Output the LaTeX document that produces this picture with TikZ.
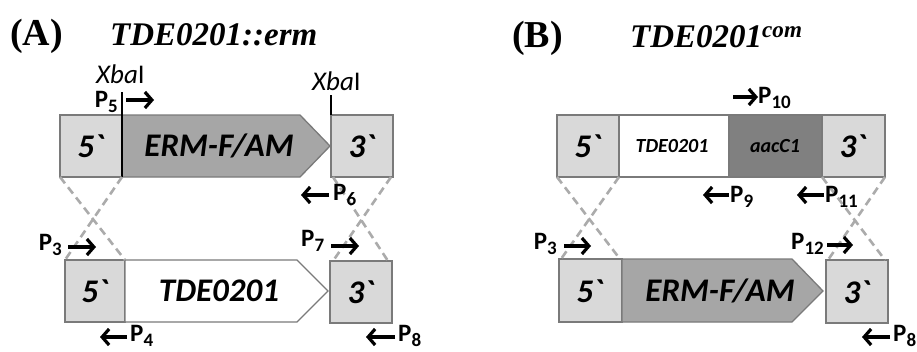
\documentclass[tikz,border=0pt]{standalone}
\usepackage{fontspec}
\setmainfont{Carlito}[Ligatures=TeXOff]
\newfontfamily\titlefont{Liberation Serif}
\usetikzlibrary{arrows.meta}
\definecolor{boxlight}{HTML}{D9D9D9}
\definecolor{ermgray}{HTML}{A6A6A6}
\definecolor{aacgray}{HTML}{808080}
\definecolor{edgegray}{HTML}{7A7A7A}
\definecolor{crossgray}{HTML}{ABABAB}
\newcommand{\primlab}[1]{P\raisebox{-5pt}{\fontsize{19}{19}\selectfont #1}}
\begin{document}
\begin{tikzpicture}[x=1pt,y=-1pt,
  seg/.style={draw=edgegray, line width=1.3pt, inner sep=0pt, outer sep=0pt, anchor=north west},
  arrowseg/.style={draw=edgegray, line width=1.3pt},
  lbl/.style={font=\fontsize{33}{36}\selectfont\bfseries\itshape, inner sep=0pt},
  smalllbl/.style={font=\fontsize{20}{24}\selectfont\bfseries\itshape, inner sep=0pt},
  cross/.style={draw=crossgray, line width=2.6pt, dash pattern=on 8pt off 5pt},
  primer/.style={line width=3.2pt, -{Straight Barb[length=7pt,width=16pt]}},
  plab/.style={font=\fontsize{25}{28}\selectfont\bfseries, inner sep=0pt},
  xba/.style={font=\fontsize{27}{30}\selectfont, inner sep=0pt, anchor=base west},
  ttl/.style={font=\fontsize{38}{40}\selectfont\titlefont\bfseries, inner sep=0pt, anchor=base west},
  ttlit/.style={font=\fontsize{33}{36}\selectfont\titlefont\bfseries\itshape, inner sep=0pt, anchor=base west}
]
\useasboundingbox (0,0) rectangle (917,351);

% ---------- titles ----------
\node[ttl] (tA) at (10,45) {(A)};
\node[ttlit] (tAname) at (110,45) {TDE0201::erm};
\node[ttl] (tB) at (512,47) {(B)};
\node[ttlit] (tBname) at (630,47) {TDE0201\textsuperscript{com}};

% ---------- panel A, top row ----------
\node[seg, fill=boxlight, minimum width=62pt, minimum height=62pt] (a5t) at (60,115) {};
\path[arrowseg, fill=ermgray] (122,115) coordinate (ermAtl) -- (300,115) -- (330,146) coordinate (ermAtip) -- (300,177) -- (122,177) coordinate (ermAbl) -- cycle;
\node[seg, fill=boxlight, minimum width=62pt, minimum height=62pt] (a3t) at (331,115) {};
\node[lbl] (a5tl) at (91,146) {5`};
\node[lbl] (ermAl) at (219,146) {ERM-F/AM};
\node[lbl] (a3tl) at (362,146) {3`};

% XbaI sites
\node[xba] (xba1) at (96,83) {\textit{Xba}I};
\coordinate (xba1top) at (122,92);
\draw[line width=1.1pt] (xba1top) -- (ermAbl);
\node[xba] (xba2) at (312,90) {\textit{Xba}I};
\coordinate (xba2top) at (331,95);
\draw[line width=1.1pt] (xba2top) -- (a3t.north west);

% ---------- panel A, bottom row ----------
\node[seg, fill=boxlight, minimum width=60pt, minimum height=62pt] (a5b) at (65,260) {};
\path[arrowseg, fill=white] (125,260) -- (297,260) -- (328,291) -- (297,322) -- (125,322) -- cycle;
\node[seg, fill=boxlight, minimum width=62pt, minimum height=62pt] (a3b) at (330,261) {};
\node[lbl] (a5bl) at (95,291) {5`};
\node[lbl] (tdeAl) at (219,291) {TDE0201};
\node[lbl] (a3bl) at (361,292) {3`};

% crossings A
\draw[cross] (a5t.south west) -- (a5b.north east);
\draw[cross] (a5t.south east) -- (a5b.north west);
\draw[cross] ([xshift=2pt]a3t.south west) -- ([xshift=-4pt]a3b.north east);
\draw[cross] ([xshift=-2pt]a3t.south east) -- ([xshift=3pt]a3b.north west);

% primers A
\node[plab, anchor=base east] (p5) at (118,107) {\primlab{5}};
\coordinate (p5s) at (126,100); \coordinate (p5e) at (154,100);
\draw[primer] (p5s) -- (p5e);

\node[plab, anchor=base west] (p6) at (333,200) {\primlab{6}};
\coordinate (p6s) at (329,195); \coordinate (p6e) at (301,195);
\draw[primer] (p6s) -- (p6e);

\node[plab, anchor=base east] (p3a) at (62,250) {\primlab{3}};
\coordinate (p3as) at (68,247); \coordinate (p3ae) at (96,247);
\draw[primer] (p3as) -- (p3ae);

\node[plab, anchor=base west] (p7) at (301,246) {\primlab{7}};
\coordinate (p7s) at (331,246); \coordinate (p7e) at (359,246);
\draw[primer] (p7s) -- (p7e);

\node[plab, anchor=base west] (p4) at (130,341) {\primlab{4}};
\coordinate (p4s) at (127,337); \coordinate (p4e) at (100,337);
\draw[primer] (p4s) -- (p4e);

\node[plab, anchor=base west] (p8a) at (398,341) {\primlab{8}};
\coordinate (p8as) at (395,337); \coordinate (p8ae) at (366,337);
\draw[primer] (p8as) -- (p8ae);

% ---------- panel B, top row ----------
\node[seg, fill=boxlight, minimum width=62pt, minimum height=62pt] (b5t) at (557,115) {};
\node[seg, fill=white, minimum width=110pt, minimum height=62pt] (btde) at (619,115) {};
\node[seg, fill=aacgray, minimum width=93pt, minimum height=62pt] (baac) at (729,115) {};
\node[seg, fill=boxlight, minimum width=63pt, minimum height=62pt] (b3t) at (822,115) {};
\node[lbl] (b5tl) at (588,146) {5`};
\node[smalllbl] (btdel) at (672,146) {TDE0201};
\node[smalllbl] (baacl) at (775,146) {aacC1};
\node[lbl] (b3tl) at (853,146) {3`};

% ---------- panel B, bottom row ----------
\node[seg, fill=boxlight, minimum width=63pt, minimum height=63pt] (b5b) at (559,259) {};
\path[arrowseg, fill=ermgray] (622,259) -- (792,259) -- (823,291) -- (792,322) -- (622,322) -- cycle;
\node[seg, fill=boxlight, minimum width=62pt, minimum height=63pt] (b3b) at (826,260) {};
\node[lbl] (b5bl) at (590,291) {5`};
\node[lbl] (ermBl) at (720,291) {ERM-F/AM};
\node[lbl] (b3bl) at (857,292) {3`};

% crossings B
\draw[cross] (b5t.south west) -- ([xshift=-2pt]b5b.north east);
\draw[cross] (b5t.south east) -- ([xshift=2pt]b5b.north west);
\draw[cross] (b3t.south west) -- ([xshift=-3pt]b3b.north east);
\draw[cross] (b3t.south east) -- ([xshift=2pt]b3b.north west);

% primers B
\node[plab, anchor=base west] (p10) at (758,103) {\primlab{10}};
\coordinate (p10s) at (733,97); \coordinate (p10e) at (758,97);
\draw[primer] (p10s) -- (p10e);

\node[plab, anchor=base west] (p9) at (730,202) {\primlab{9}};
\coordinate (p9s) at (729,195); \coordinate (p9e) at (703,195);
\draw[primer] (p9s) -- (p9e);

\node[plab, anchor=base west] (p11) at (825,202) {\primlab{11}};
\coordinate (p11s) at (824,195); \coordinate (p11e) at (797,195);
\draw[primer] (p11s) -- (p11e);

\node[plab, anchor=base east] (p3b) at (557,249) {\primlab{3}};
\coordinate (p3bs) at (564,246); \coordinate (p3be) at (591,246);
\draw[primer] (p3bs) -- (p3be);

\node[plab, anchor=base east] (p12) at (824,249) {\primlab{12}};
\coordinate (p12s) at (827,245); \coordinate (p12e) at (853,245);
\draw[primer] (p12s) -- (p12e);

\node[plab, anchor=base west] (p8b) at (893,341) {\primlab{8}};
\coordinate (p8bs) at (890,337); \coordinate (p8be) at (862,337);
\draw[primer] (p8bs) -- (p8be);
\end{tikzpicture}
\end{document}
